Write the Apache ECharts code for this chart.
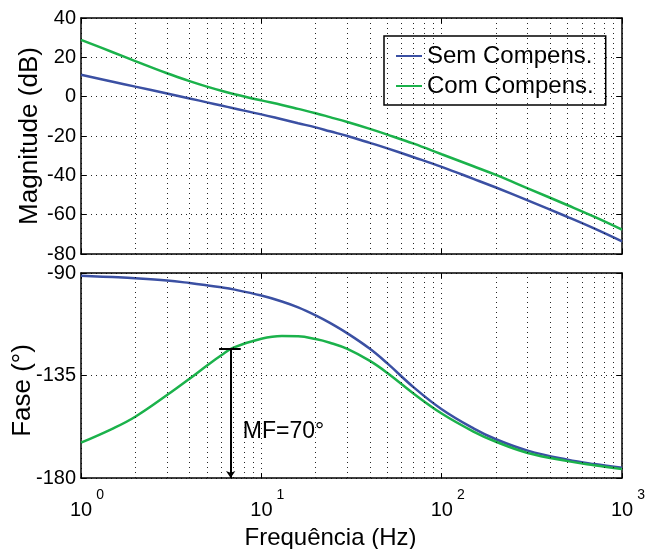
<!DOCTYPE html>
<html>
<head>
<meta charset="utf-8">
<script src="https://cdn.jsdelivr.net/npm/echarts@6/dist/echarts.min.js"></script>
<style>
  html, body { margin: 0; padding: 0; background: #fff; }
  #chart { width: 652px; height: 549px; }
</style>
</head>
<body>
<div id="chart"></div>
<script>
var freq = [1, 1.5, 2, 3, 4, 5, 6, 7, 10, 13, 16, 20, 24, 30, 40, 50, 70, 100, 150, 200, 300, 500, 700, 1000];
var magSem = [11.1, 7.6, 5.1, 1.6, -0.9, -2.9, -4.5, -5.9, -9.0, -11.5, -13.5, -15.6, -17.6, -20.0, -23.5, -26.3, -30.8, -35.7, -41.8, -46.2, -52.7, -61.2, -67.0, -73.6];
var magCom = [28.9, 22.6, 18.1, 11.9, 7.9, 5.1, 3.0, 1.4, -1.9, -4.2, -6.2, -8.4, -10.4, -12.9, -16.4, -19.3, -23.9, -29.3, -35.4, -39.8, -46.6, -55.2, -61.0, -67.6];
var faseSem = [-91.2, -91.8, -92.3, -93.3, -94.4, -95.4, -96.3, -97.2, -99.9, -102.5, -105.1, -108.6, -111.9, -116.5, -123.3, -129.7, -140.2, -149.8, -158.2, -163.0, -168.0, -172.0, -173.9, -175.5];
var faseCom = [-164.5, -158.3, -153.1, -143.6, -136.4, -130.6, -126.1, -122.8, -118.9, -117.7, -117.8, -119.0, -120.6, -123.3, -128.6, -133.9, -143.0, -151.7, -159.6, -164.1, -169.0, -172.6, -174.4, -176.1];
var minorFreq = [2, 3, 4, 5, 6, 7, 8, 9, 20, 30, 40, 50, 60, 70, 80, 90, 200, 300, 400, 500, 600, 700, 800, 900];
var legendNames = ['Sem Compens.', 'Com Compens.'];
// margem de fase
var mfFreq = 6.76, mfCapLo = 5.83, mfCapHi = 7.69, mfTop = -123.4, mfBottom = -180;
var mfTextFreq = 7.9, mfTextPhase = -159.5;

function pares(y) {
  return freq.map(function (f, i) { return [f, y[i]]; });
}

var FONT = 'Liberation Sans';
var dotted = { color: '#000', type: [1, 4], width: 1, opacity: 0.85 };
var minorLines = {
  silent: true,
  symbol: ['none', 'none'],
  label: { show: false },
  lineStyle: dotted,
  emphasis: { disabled: true },
  data: minorFreq.map(function (f) { return { xAxis: f }; })
};

var myChart = echarts.init(document.getElementById('chart'));

function eixoX(grid, pos, labels) {
  var ax = {
    type: 'log', logBase: 10, min: 1, max: 1000, gridIndex: grid, position: pos,
    axisLine: { show: true, onZero: false, lineStyle: { color: '#000', width: 1.5 } },
    axisTick: { show: true, inside: true, length: 5, lineStyle: { color: '#000' } },
    axisLabel: { show: false },
    splitLine: { show: pos === 'bottom', lineStyle: dotted }
  };
  if (labels) {
    ax.axisLabel = {
      show: true, margin: 10, color: '#000', fontFamily: FONT,
      formatter: function (v) {
        var n = Math.round(Math.log(v) / Math.LN10);
        return '{e|}{b|10}{s|' + n + '}';
      },
      rich: {
        e: { width: 12 },
        b: { fontSize: 20, fontFamily: FONT, color: '#000' },
        s: { fontSize: 14, fontFamily: FONT, color: '#000', padding: [0, 0, 30, 4] }
      }
    };
    ax.name = 'Frequência (Hz)';
    ax.nameLocation = 'middle';
    ax.nameGap = 48;
    ax.nameMoveOverlap = false;
    ax.nameTextStyle = { fontSize: 24, fontFamily: FONT, color: '#000', padding: [0, 42, 0, 0] };
  }
  return ax;
}

function eixoY(grid, pos, min, max, step, name, gap) {
  var ax = {
    type: 'value', min: min, max: max, interval: step, gridIndex: grid, position: pos,
    axisLine: { show: true, onZero: false, lineStyle: { color: '#000', width: 1.5 } },
    axisTick: { show: true, inside: true, length: 5, lineStyle: { color: '#000' } },
    axisLabel: { show: pos === 'left', margin: 5, fontSize: 20, fontFamily: FONT, color: '#000' },
    splitLine: { show: pos === 'left', lineStyle: dotted }
  };
  if (name) {
    ax.name = name;
    ax.nameLocation = 'middle';
    ax.nameGap = gap;
    ax.nameMoveOverlap = false;
    ax.nameTextStyle = { fontSize: 26, fontFamily: FONT, color: '#000' };
  }
  return ax;
}

var yFase = eixoY(1, 'left', -180, -90, 45, 'Fase (°)', 45);
yFase.nameTextStyle.padding = [0, 30, 0, 0];

var option = {
  animation: false,
  backgroundColor: '#fff',
  textStyle: { fontFamily: FONT },
  grid: [
    { left: 81, top: 18, width: 541, height: 236, containLabel: false, outerBoundsMode: 'none' },
    { left: 81, top: 273, width: 541, height: 205, containLabel: false, outerBoundsMode: 'none' }
  ],
  legend: {
    data: legendNames,
    orient: 'vertical',
    left: 384, top: 36,
    padding: [8, 12, 7, 12],
    itemGap: 6,
    itemWidth: 26, itemHeight: 2,
    icon: 'rect',
    backgroundColor: '#fff',
    borderColor: '#000', borderWidth: 1.5, borderRadius: 0,
    textStyle: { fontSize: 24, lineHeight: 23, fontFamily: FONT, color: '#000' }
  },
  xAxis: [
    eixoX(0, 'bottom', false),
    eixoX(0, 'top', false),
    eixoX(1, 'bottom', true),
    eixoX(1, 'top', false)
  ],
  yAxis: [
    eixoY(0, 'left', -80, 40, 20, 'Magnitude (dB)', 38),
    eixoY(0, 'right', -80, 40, 20),
    yFase,
    eixoY(1, 'right', -180, -90, 45)
  ],
  series: [
    {
      name: legendNames[0], type: 'line', xAxisIndex: 0, yAxisIndex: 0,
      data: pares(magSem), showSymbol: false, smooth: 0.4,
      itemStyle: { color: '#3b50a3' }, lineStyle: { color: '#3b50a3', width: 2.5 },
      markLine: minorLines, z: 3
    },
    {
      name: legendNames[1], type: 'line', xAxisIndex: 0, yAxisIndex: 0,
      data: pares(magCom), showSymbol: false, smooth: 0.4,
      itemStyle: { color: '#1bb24b' }, lineStyle: { color: '#1bb24b', width: 2.5 }, z: 3
    },
    {
      name: legendNames[0], type: 'line', xAxisIndex: 2, yAxisIndex: 2,
      data: pares(faseSem), showSymbol: false, smooth: 0.4,
      itemStyle: { color: '#3b50a3' }, lineStyle: { color: '#3b50a3', width: 2.5 },
      markLine: minorLines, z: 3
    },
    {
      name: legendNames[1], type: 'line', xAxisIndex: 2, yAxisIndex: 2,
      data: pares(faseCom), showSymbol: false, smooth: 0.4,
      itemStyle: { color: '#1bb24b' }, lineStyle: { color: '#1bb24b', width: 2.5 }, z: 4,
      markLine: {
        silent: true,
        label: { show: false },
        lineStyle: { color: '#000', type: 'solid', width: 2 },
        emphasis: { disabled: true },
        data: [
          [{ coord: [mfFreq, mfTop], symbol: 'none' }, { coord: [mfFreq, mfBottom], symbol: 'arrow', symbolSize: [7, 7] }],
          [{ coord: [mfCapLo, mfTop], symbol: 'none' }, { coord: [mfCapHi, mfTop], symbol: 'none' }]
        ]
      },
      markPoint: {
        silent: true,
        symbol: 'circle', symbolSize: 0,
        label: { show: true, position: 'right', distance: 0, formatter: 'MF=70°', fontSize: 23, fontFamily: FONT, color: '#000' },
        data: [{ coord: [mfTextFreq, mfTextPhase] }]
      }
    }
  ]
};
myChart.setOption(option);
</script>
</body>
</html>
